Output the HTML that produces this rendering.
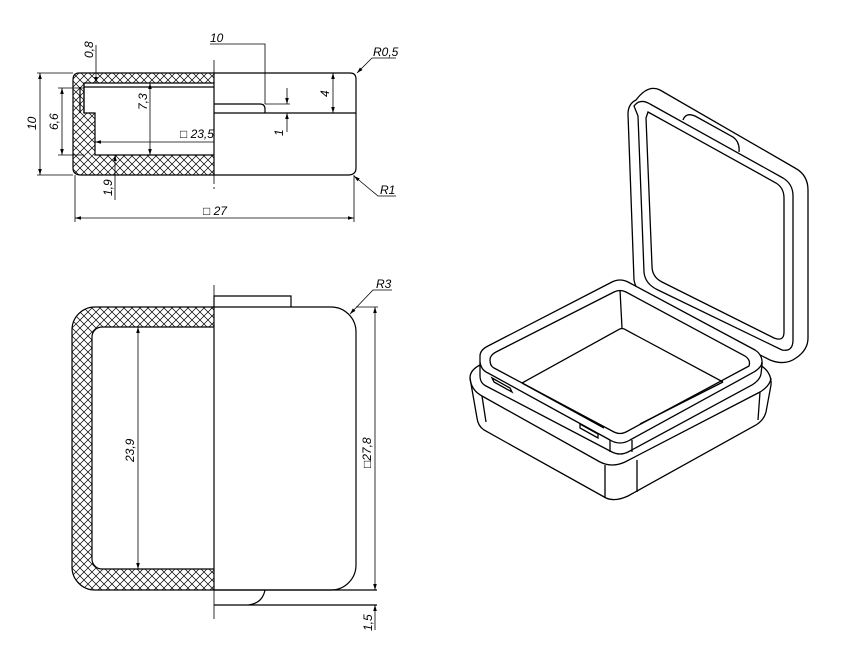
<!DOCTYPE html>
<html><head><meta charset="utf-8"><style>
html,body{margin:0;padding:0;background:#fff;}
svg{display:block;}
text{font-family:"Liberation Sans",sans-serif;font-style:italic;font-size:12px;fill:#000;}
</style></head><body>
<svg width="866" height="650" viewBox="0 0 866 650" xmlns="http://www.w3.org/2000/svg">
<defs>
<pattern id="h" width="8" height="8" patternUnits="userSpaceOnUse">
<path d="M0,0 L8,8 M8,0 L0,8" stroke="#000" stroke-width="0.7"/>
</pattern>
<marker id="a" viewBox="0 0 10 10" refX="10" refY="5" markerWidth="8" markerHeight="6" orient="auto-start-reverse" markerUnits="userSpaceOnUse"><path d="M0,2 L10,5 L0,8 Z" fill="#000"/></marker>
</defs>
<g fill="none" stroke="#000" stroke-width="1.2">
<!-- TOP VIEW -->
<path fill="url(#h)" fill-rule="evenodd" d="M214,73 H79 Q73,73 73,80 V168 Q73,175 81,175 H214 Z M214,83 H84 V113 H95 V155 H214 Z"/>
<path d="M214,87 H84 M80,87 V113 M84,83 V113"/>
<path d="M214,73 H350 Q356,73 356,79 V168 Q356,175 348,175 H214"/>
<path d="M214,113 H356 M214,104 H260 Q265,104 265,109 V113"/>
<path d="M214,60 V190" stroke-dasharray="14,3,2,3" stroke-width="0.8"/>
<g stroke-width="0.8">
<path d="M210,44 H265 V104"/>
<path d="M37,73 H73 M37,175 H73"/>
<path d="M40,73 V175" marker-start="url(#a)" marker-end="url(#a)"/>
<path d="M58,88 H84 M58,155 H84"/>
<path d="M62,88 V155" marker-start="url(#a)" marker-end="url(#a)"/>
<path d="M150,83 V155" marker-start="url(#a)" marker-end="url(#a)"/>
<path d="M214,142 H95" marker-end="url(#a)"/>
<path d="M96,45 V83" marker-end="url(#a)"/>
<path d="M115,200 V155" marker-end="url(#a)"/>
<path d="M333,73 V113" marker-start="url(#a)" marker-end="url(#a)"/>
<path d="M287,88 V104" marker-end="url(#a)"/>
<path d="M287,132 V113" marker-end="url(#a)"/>
<path d="M265,104 H290"/>
<path d="M75,175 V222 M354,175 V222"/>
<path d="M75,218 H354" marker-start="url(#a)" marker-end="url(#a)"/>
<path d="M396,58 H372 L357,73" marker-end="url(#a)"/>
<path d="M396,196 H378 L354,176" marker-end="url(#a)"/>
</g>
<!-- BOTTOM VIEW -->
<path fill="url(#h)" fill-rule="evenodd" d="M214,307 H95 A23,23 0 0 0 72,330 V567 A23,23 0 0 0 95,590 H214 Z M214,327 H102 A10,10 0 0 0 92,337 V559 A10,10 0 0 0 102,569 H214 Z"/>
<path d="M214,307 H331 A25,25 0 0 1 356,332 V565 A25,25 0 0 1 331,590 H214"/>
<path d="M214,307 V296 H291 V307"/>
<path d="M214,590 H377 M214,605 H377 M265,590 Q262,605 245,605"/>
<path d="M214,285 V620" stroke-dasharray="30,3,2,3" stroke-width="0.8"/>
<g stroke-width="0.8">
<path d="M356,307 H378"/>
<path d="M375,307 V590" marker-start="url(#a)" marker-end="url(#a)"/>
<path d="M375,630 V605" marker-end="url(#a)"/>
<path d="M138,327 V569" marker-start="url(#a)" marker-end="url(#a)"/>
<path d="M392,290 H373 L350,314" marker-end="url(#a)"/>
</g>
<!-- ISOMETRIC -->
<g stroke-width="1.3">
<!-- lid -->
<path d="M636,100 Q628,104 628,114 L634,280 Q636,292 648,298 L770,360 Q785,366 796,358 Q808,350 808,338 L808,190 Q808,175 795,168 L660,90 Q648,84 636,100 Z"/>
<path d="M634,106 Q640,98 650,104 L783,178 Q793,184 793,196 L793,340 Q793,352 782,350 L658,290 Q645,284 644,272 L638,116 Z"/>
<path d="M648,112 L776,183 Q784,188 784,198 L784,332 Q784,342 774,338 L662,282 Q652,277 652,266 L646,118 Z"/>
<path d="M683,120 Q686,112 695,116 L733,137 Q740,142 739,152"/>
<!-- base outer -->
<path fill="#fff" d="M470,378 Q470,370 480,365 L600,300 L760,365 Q772,372 771,385 L766,412 Q764,420 756,425 L628,496 Q615,502 606,498 L484,430 Q478,426 477,418 Z"/>
<path d="M470,378 Q471,390 482,396 L600,462 Q612,468 625,462 L760,392 Q770,386 771,378"/>
<path d="M482,396 L486,422 M605,465 L605,498 M637,460 L637,492 M760,392 L758,420"/>
<!-- rim -->
<path fill="#fff" d="M480,356 Q480,350 488,346 L612,282 Q620,278 628,282 L755,350 Q763,355 762,365 L761,374 Q760,380 752,385 L628,452 Q620,456 612,452 L486,386 Q480,383 480,376 Z"/>
<path d="M480,362 Q481,370 488,373 L610,440 Q620,446 630,440 L754,372 Q762,367 762,362"/>
<path d="M610,440 V452 M632,440 V452"/>
<path d="M490,360 Q490,355 496,352 L614,292 Q620,289 626,292 L745,356 Q751,360 749,366 L626,432 Q620,435 614,432 L494,368 Q490,366 490,360 Z"/>
<path d="M620,290 L622,328 M522,383 L618,330 Q622,327 626,330 L723,382"/>
<path d="M522,383 L604,428 M723,382 L640,424"/>
<path d="M492,378 L510,388 L512,392 L494,382 Z M580,424 L598,434 L598,438 L580,428 Z"/>
</g>
</g>
<!-- texts -->
<text x="210" y="42">10</text>
<text x="373" y="56">R0,5</text>
<text x="380" y="194">R1</text>
<text x="180" y="138">□ 23,5</text>
<text x="203" y="215">□ 27</text>
<text x="376" y="288">R3</text>
<text transform="translate(36,130) rotate(-90)">10</text>
<text transform="translate(58,130) rotate(-90)">6,6</text>
<text transform="translate(147,110) rotate(-90)">7,3</text>
<text transform="translate(93,58) rotate(-90)">0,8</text>
<text transform="translate(112,196) rotate(-90)">1,9</text>
<text transform="translate(329,97) rotate(-90)">4</text>
<text transform="translate(283,136) rotate(-90)">1</text>
<text transform="translate(134,462) rotate(-90)">23,9</text>
<text transform="translate(371,468) rotate(-90)">□27,8</text>
<text transform="translate(372,631) rotate(-90)">1,5</text>
</svg>
</body></html>
